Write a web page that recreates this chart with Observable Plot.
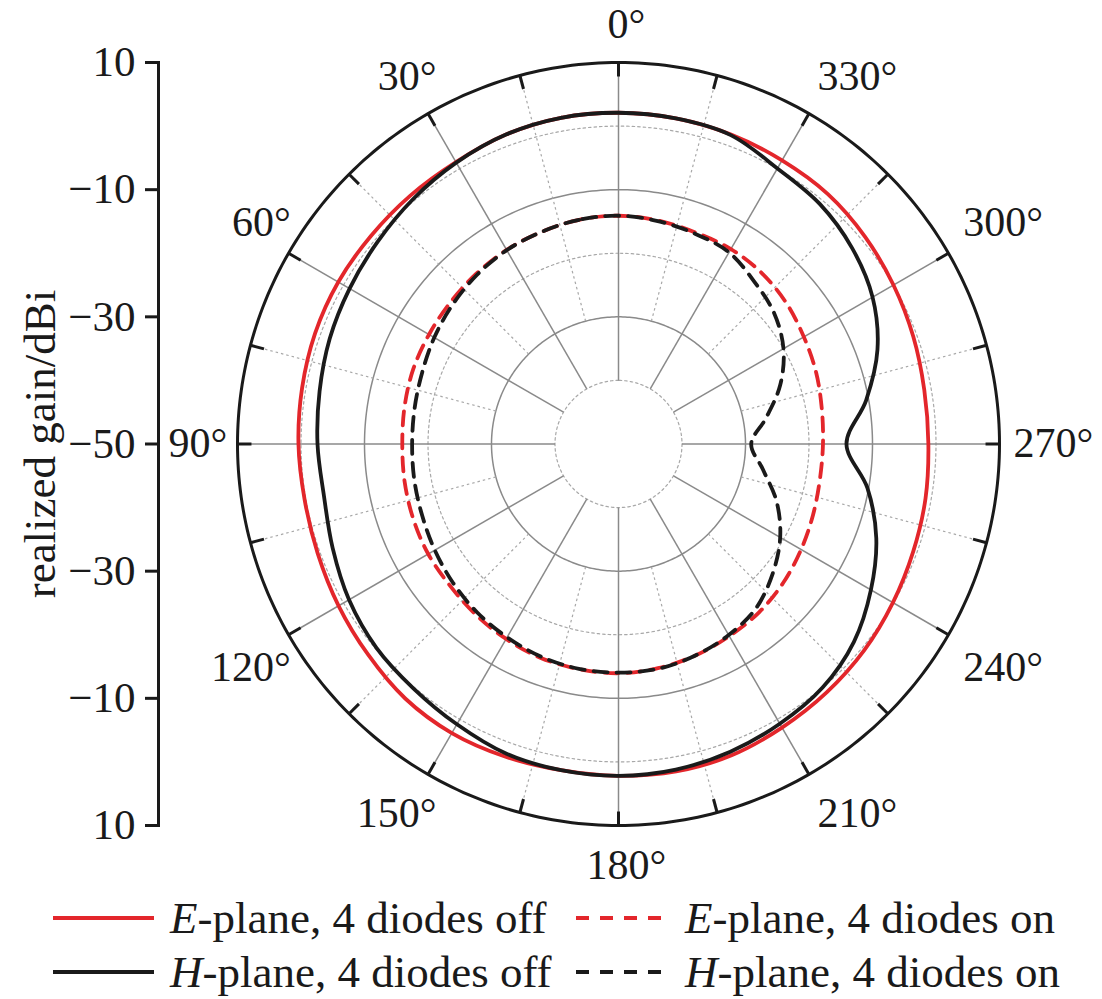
<!DOCTYPE html>
<html><head><meta charset="utf-8">
<script src="https://cdn.jsdelivr.net/npm/d3@7"></script>
<script src="https://cdn.jsdelivr.net/npm/@observablehq/plot@0.6"></script>
<style>
html,body{margin:0;padding:0;background:#fff;overflow:hidden;}
body{font-family:"Liberation Serif","Times New Roman",serif;color:#1a1a1a;}
#chart svg{display:block;}
#legend{position:relative;width:1102px;height:114px;font-size:45px;}
.item{position:absolute;height:54px;display:flex;align-items:center;white-space:nowrap;}
.item i{font-style:italic;}
</style></head><body>
<div id="chart"></div>
<div id="legend"></div>
<script>
// ---- data ----
const angles = [0,10,20,30,40,50,60,70,80,90,100,110,120,130,140,150,160,170,180,190,200,210,220,230,240,250,260,270,280,290,300,310,320,330,340,350];
const eOff = [2.1,2.1,1.8,1.2,1.0,0.9,0.95,0.85,0.6,0.4,0.2,0.4,0.9,1.5,2.25,2.5,2.3,2.1,2.2,2.3,2.1,1.5,1.0,0.5,-0.1,-0.6,-0.9,-1.2,-1.1,-0.6,0.0,0.7,1.3,1.5,1.8,2.0];
const hOff = [2.1,2.1,1.8,1.1,0.3,-0.5,-1.1,-1.6,-2.2,-2.6,-2.9,-2.1,-1.0,-0.2,0.2,0.9,1.8,2.1,2.2,2.0,1.5,0.8,0.0,-1.6,-4.1,-6.8,-10.2,-14.1,-10.4,-6.6,-3.8,-2.0,-0.7,0.05,1.7,2.0];
const eOn = [-14.1,-14.2,-14.5,-14.75,-15.1,-15.4,-15.55,-15.6,-15.8,-15.95,-15.8,-15.6,-15.4,-15.35,-15.0,-14.6,-14.2,-14.05,-13.95,-14.2,-14.6,-15.1,-15.5,-16.1,-16.8,-17.4,-17.8,-17.8,-17.5,-16.9,-16.3,-15.5,-14.9,-14.6,-14.6,-14.3];
const hOn = [-14.1,-14.2,-14.5,-14.8,-15.3,-15.9,-16.5,-17.1,-17.4,-17.5,-17.35,-17.1,-16.6,-16.0,-15.4,-14.9,-14.4,-14.1,-14.05,-14.1,-14.6,-15.3,-16.3,-18.3,-20.6,-23.5,-26.9,-29.1,-26.4,-22.9,-20.0,-18.0,-16.7,-15.2,-14.8,-14.4];
const seriesNames = ["E-plane, 4 diodes off","H-plane, 4 diodes off","E-plane, 4 diodes on","H-plane, 4 diodes on"];
const radialMin = -50, radialMax = 10;           // gain at centre / outer ring (dBi)
const dottedRings = [-40, -20, 0];
const solidRings = [-30, -10];
const axisTickGains = [10, -10, -30, -50];        // labels of the left axis
const angleLabels = [0,30,60,90,120,150,180,210,240,270,300,330];
const yLabel = "realized gain/dBi";

// ---- helpers ----
const span = radialMax - radialMin;                // 60
const rho = g => g - radialMin;                    // distance from centre in gain units
const rad = a => a * Math.PI / 180;
const px = (g, a) => -rho(g) * Math.sin(rad(a));   // 0° at top, counter-clockwise
const py = (g, a) => rho(g) * Math.cos(rad(a));
const fmt = v => (v < 0 ? "\u2212" + Math.abs(v) : String(v));

const RED = "#e3262b", BLACK = "#1a1a1a";
const values = [eOff, hOff, eOn, hOn];
const rows = seriesNames.flatMap((s, k) => angles.map((a, i) => ({s, a, g: values[k][i]})));

const ringPts = levels => levels.flatMap(g => d3.range(0, 361, 1).map(a => ({g, a})));
const spokes = (step, start, from) => d3.range(start, 360, step).map(a => ({a, from}));

const yTicks = axisTickGains.map(rho).concat(axisTickGains.slice(0, -1).map(g => -rho(g)));

const curve = (k, stroke, dash) => Plot.line(rows, {
  filter: d => d.s === seriesNames[k],
  x: d => px(d.g, d.a), y: d => py(d.g, d.a),
  stroke, strokeWidth: 3.8, strokeDasharray: dash, curve: "catmull-rom-closed"
});

// angle labels: offset (in gain units beyond the centre) + anchoring per group
const angleText = (filter, off, opts) => Plot.text(angleLabels, {
  filter, x: a => px(radialMin + off, a), y: a => py(radialMin + off, a),
  text: a => a + "°", fontSize: 42, fill: BLACK, ...opts
});

const chart = Plot.plot({
  width: 1102, height: 885,
  marginLeft: 158, marginTop: 62, marginBottom: 60, marginRight: 103,
  x: {domain: [-span, span], range: [237, 999], axis: null},
  y: {domain: [-span, span], axis: null},
  style: {fontFamily: "Liberation Serif, Times New Roman, serif", fontSize: "42px", color: BLACK, background: "white", overflow: "visible"},
  marks: [
    // grid rings
    Plot.line(ringPts(dottedRings), {x: d => px(d.g, d.a), y: d => py(d.g, d.a), z: "g", stroke: "#a8a8a8", strokeWidth: 1.2, strokeDasharray: "2.5,3"}),
    Plot.line(ringPts(solidRings), {x: d => px(d.g, d.a), y: d => py(d.g, d.a), z: "g", stroke: "#8a8a8a", strokeWidth: 1.5}),
    // spokes
    Plot.link(spokes(15, 15, -30).filter(d => d.a % 30 !== 0), {x1: d => px(d.from, d.a), y1: d => py(d.from, d.a), x2: d => px(radialMax, d.a), y2: d => py(radialMax, d.a), stroke: "#a8a8a8", strokeWidth: 1.2, strokeDasharray: "2.5,3"}),
    Plot.link(spokes(30, 0, -40), {x1: d => px(d.from, d.a), y1: d => py(d.from, d.a), x2: d => px(radialMax, d.a), y2: d => py(radialMax, d.a), stroke: "#8a8a8a", strokeWidth: 1.5}),
    // outer ring and its ticks
    Plot.line(ringPts([radialMax]), {x: d => px(d.g, d.a), y: d => py(d.g, d.a), stroke: BLACK, strokeWidth: 3}),
    Plot.link(spokes(15, 0, radialMax), {x1: d => px(radialMax, d.a), y1: d => py(radialMax, d.a), x2: d => px(radialMax - 2.2, d.a), y2: d => py(radialMax - 2.2, d.a), stroke: BLACK, strokeWidth: 3}),
    // curves
    curve(0, RED, null),
    curve(1, BLACK, null),
    curve(2, RED, "14,9"),
    curve(3, BLACK, "14,9"),
    // angle labels
    angleText(a => a === 0, 63.9, {lineAnchor: "bottom", dx: 8}),
    angleText(a => a === 180, 63.8, {lineAnchor: "top", dx: 8}),
    angleText(a => a === 90, 61.6, {textAnchor: "end", lineAnchor: "middle"}),
    angleText(a => a === 270, 62.2, {textAnchor: "start", lineAnchor: "middle"}),
    angleText(a => a > 0 && a < 90, 62.7, {textAnchor: "end", lineAnchor: "bottom", dx: 17, dy: -9}),
    angleText(a => a > 90 && a < 180, 62.7, {textAnchor: "end", lineAnchor: "top", dx: 17, dy: 8}),
    angleText(a => a > 180 && a < 270, 62.7, {textAnchor: "start", lineAnchor: "top", dy: 8}),
    angleText(a => a > 270, 62.7, {textAnchor: "start", lineAnchor: "bottom", dy: -9}),
    // left radial axis
    Plot.frame({anchor: "left", stroke: BLACK, strokeWidth: 3}),
    Plot.axisY(yTicks, {anchor: "left", tickSize: 13, tickPadding: 10, strokeWidth: 3, stroke: BLACK, fill: BLACK, fontSize: 43, label: null, tickFormat: d => fmt(Math.abs(d) + radialMin)}),
    Plot.text([yLabel], {frameAnchor: "left", textAnchor: "middle", lineAnchor: "middle", rotate: -90, dx: -118, fontSize: 45, fill: BLACK})
  ]
});
document.getElementById("chart").append(chart);

// ---- legend ----
const legendItems = [
  {k: 0, stroke: RED, dash: null, left: 53, top: 6},
  {k: 2, stroke: RED, dash: "13,11", left: 576, top: 6},
  {k: 1, stroke: BLACK, dash: null, left: 53, top: 60},
  {k: 3, stroke: BLACK, dash: "13,11", left: 576, top: 60}
];
const legend = document.getElementById("legend");
for (const it of legendItems) {
  const name = seriesNames[it.k];
  const div = document.createElement("div");
  div.className = "item";
  div.style.left = it.left + "px";
  div.style.top = it.top + "px";
  const w = it.dash ? 92 : 101;
  div.innerHTML = `<svg width="${w}" height="10" style="margin-right:${it.dash ? 17 : 16}px"><line x1="0" x2="${w}" y1="5" y2="5" stroke="${it.stroke}" stroke-width="4" ${it.dash ? `stroke-dasharray="${it.dash}"` : ""}/></svg><span><i>${name[0]}</i>${name.slice(1)}</span>`;
  legend.append(div);
}
</script>
</body></html>
